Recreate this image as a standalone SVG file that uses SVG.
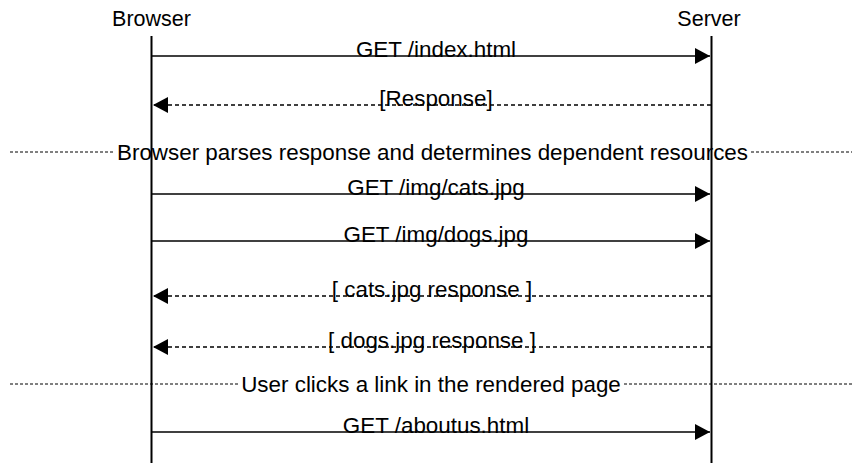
<svg xmlns="http://www.w3.org/2000/svg" width="852" height="463" viewBox="0 0 852 463">
<style>
text{font-family:"Liberation Sans",Arial,sans-serif;font-size:22.4px;fill:#000;}
.title{font-size:21.5px;}
.lbl{text-anchor:middle;}
.life{stroke:#000;stroke-width:2;}
.msg{stroke:#000;stroke-width:1.5;fill:none;}
.ret{stroke:#000;stroke-width:1.5;fill:none;stroke-dasharray:4 3;}
.sep{stroke:#000;stroke-width:1;stroke-dasharray:3 2;}
</style>
<defs>
<marker id="ah" markerWidth="16" markerHeight="16" viewBox="0 0 16 16" refX="15" refY="8" orient="auto" markerUnits="userSpaceOnUse">
<path d="M0,0 L15,8 L0,16 Z" fill="#000"/>
</marker>
</defs>
<rect width="852" height="463" fill="#fff"/>
<g id="browser">
<text class="lbl title" x="151.5" y="26">Browser</text>
<line class="life" x1="151.5" y1="36" x2="151.5" y2="463"/>
</g>
<g id="server">
<text class="lbl title" x="709" y="26">Server</text>
<line class="life" x1="711.5" y1="36" x2="711.5" y2="463"/>
</g>
<g id="connectors">
<line class="msg" x1="152" y1="56" x2="710" y2="56" marker-end="url(#ah)"/>
<text class="lbl" x="436" y="57">GET /index.html</text>
<line class="ret" x1="711" y1="105" x2="153" y2="105" marker-end="url(#ah)"/>
<text class="lbl" x="436" y="106">[Response]</text>
<line class="sep" x1="10" y1="152" x2="114" y2="152"/>
<line class="sep" x1="751" y1="152" x2="852" y2="152"/>
<text class="lbl" x="432.5" y="160">Browser parses response and determines dependent resources</text>
<line class="msg" x1="152" y1="194" x2="710" y2="194" marker-end="url(#ah)"/>
<text class="lbl" x="436" y="195">GET /img/cats.jpg</text>
<line class="msg" x1="152" y1="241" x2="710" y2="241" marker-end="url(#ah)"/>
<text class="lbl" x="436" y="242">GET /img/dogs.jpg</text>
<line class="ret" x1="711" y1="296" x2="153" y2="296" marker-end="url(#ah)"/>
<text class="lbl" x="432" y="297">[ cats.jpg response ]</text>
<line class="ret" x1="711" y1="347" x2="153" y2="347" marker-end="url(#ah)"/>
<text class="lbl" x="432" y="348">[ dogs.jpg response ]</text>
<line class="sep" x1="10" y1="384" x2="238" y2="384"/>
<line class="sep" x1="624" y1="384" x2="852" y2="384"/>
<text class="lbl" x="431" y="392">User clicks a link in the rendered page</text>
<line class="msg" x1="152" y1="432" x2="710" y2="432" marker-end="url(#ah)"/>
<text class="lbl" x="436" y="433">GET /aboutus.html</text>
</g>
</svg>
